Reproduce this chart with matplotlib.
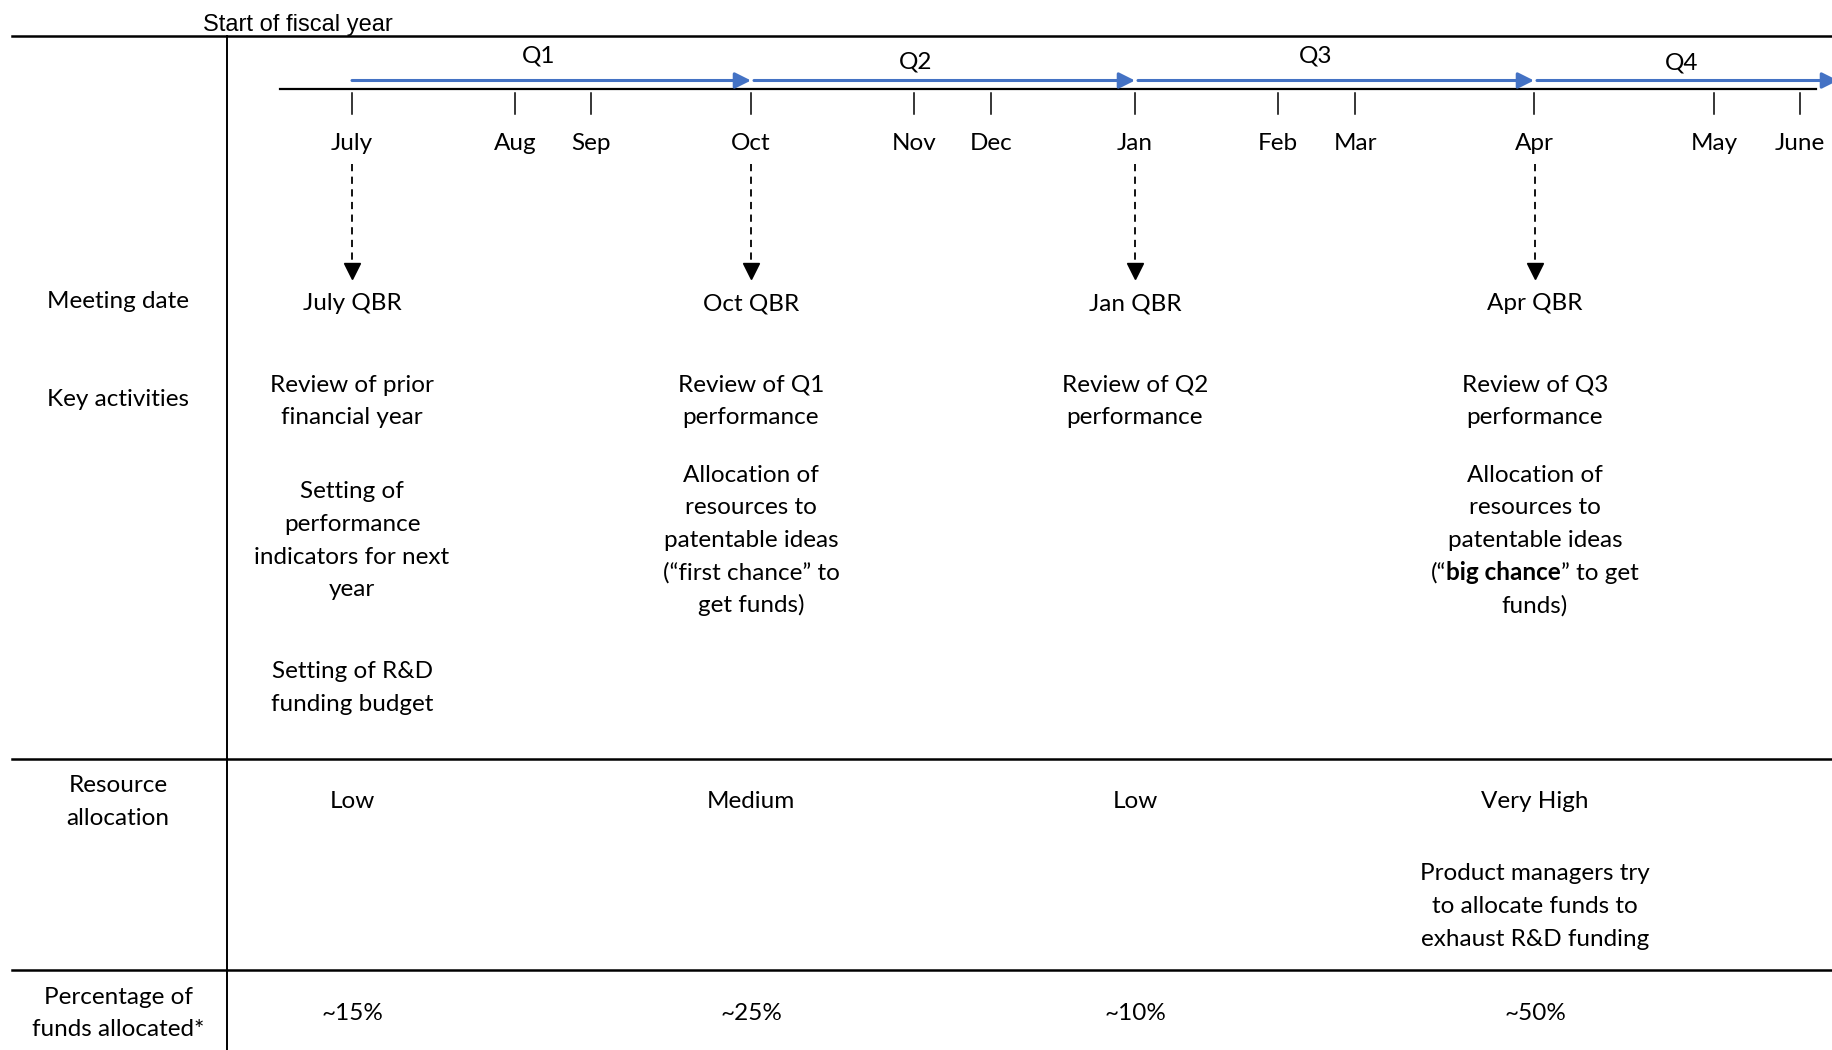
import matplotlib.pyplot as plt

plt.rcParams['font.family'] = ['Lato', 'DejaVu Sans']

# data
months = ["July", "Aug", "Sep", "Oct", "Nov", "Dec", "Jan", "Feb", "Mar", "Apr", "May", "June"]
quarters = ["Q1", "Q2", "Q3", "Q4"]
meetings = ["July QBR", "Oct QBR", "Jan QBR", "Apr QBR"]
row_labels = ["Meeting date", "Key activities", "Resource\nallocation", "Percentage of\nfunds allocated*"]
activities = [
    ["Review of prior\nfinancial year", "Setting of\nperformance\nindicators for next\nyear", "Setting of R&D\nfunding budget"],
    ["Review of Q1\nperformance", "Allocation of\nresources to\npatentable ideas\n(\u201cfirst chance\u201d to\nget funds)"],
    ["Review of Q2\nperformance"],
    ["Review of Q3\nperformance", "Allocation of\nresources to\npatentable ideas\n(\u201c**big chance**\u201d to get\nfunds)"],
]
allocation = ["Low", "Medium", "Low", "Very High"]
allocation_note = ["", "", "", "Product managers try\nto allocate funds to\nexhaust R&D funding"]
funds_pct = ["~15%", "~25%", "~10%", "~50%"]

# layout (pixel positions)
month_x = [352, 515, 591, 751, 914, 991, 1135, 1278, 1355, 1534, 1714, 1800]
quarter_idx = [0, 3, 6, 9]
quarter_label_x = [539, 916, 1316, 1682]
quarter_label_y = [56, 62, 56, 63]
col_x = [352, 751, 1135, 1535]
label_x = 118
blue = '#4472C4'
fs = 17.5
line_h = 32.6

fig = plt.figure(figsize=(18.32, 10.5), dpi=100, facecolor='white')
ax = fig.add_axes([0, 0, 1, 1])
ax.set_xlim(0, 1832)
ax.set_ylim(1050, 0)
ax.axis('off')

# table lines
ax.plot([12, 1832], [36, 36], color='black', lw=1.8)
ax.plot([12, 1832], [759, 759], color='black', lw=1.8)
ax.plot([12, 1832], [970, 970], color='black', lw=1.8)
ax.plot([227, 227], [36, 1050], color='black', lw=1.4)

ax.text(203, 25, "Start of fiscal year", family='Liberation Sans', fontsize=17,
        ha='left', va='center')

# timeline
ax.plot([280, 1816], [89, 89], color='black', lw=1.6)
for m, x in zip(months, month_x):
    ax.plot([x, x], [93, 114], color='black', lw=1.1)
    ax.text(x, 144, m, fontsize=fs, ha='center', va='center')

# quarter arrows
ends = [month_x[i] for i in quarter_idx] + [1838]
for i, q in enumerate(quarters):
    x0 = ends[i] + (0 if i == 0 else 3)
    x1 = ends[i + 1]
    ax.annotate('', xy=(x1, 80.5), xytext=(x0, 80.5), annotation_clip=False,
                arrowprops=dict(arrowstyle='-|>', color=blue, lw=2.2,
                                mutation_scale=24, shrinkA=0, shrinkB=0))
    ax.text(quarter_label_x[i], quarter_label_y[i], q, fontsize=fs, ha='center', va='center')

# dashed arrows to meetings
for x in col_x:
    ax.plot([x, x], [164, 268], color='black', lw=1.3, linestyle=(0, (4, 3)))
    ax.plot(x, 271, marker='v', color='black', markersize=11)


def multiline(x, top, text, **kw):
    for k, line in enumerate(text.split('\n')):
        ax.text(x, top + k * line_h, line, fontsize=fs, ha='center', va='center', **kw)


# row labels
label_top = [301, 400, 786, 997]
for lab, y in zip(row_labels, label_top):
    multiline(label_x, y, lab)

for x, meet in zip(col_x, meetings):
    ax.text(x, 304, meet, fontsize=fs, ha='center', va='center')

# key activities
block_top = [385, 492, 672]
fig.canvas.draw()
renderer = fig.canvas.get_renderer()
for x, blocks in zip(col_x, activities):
    for b, block in enumerate(blocks):
        top = 385 if b == 0 else (475 if len(blocks) == 2 else block_top[b])
        for k, line in enumerate(block.split('\n')):
            y = top + k * line_h
            if '**' in line:
                parts = line.split('**')
                weights = ['normal', 'bold', 'normal']
                texts = [ax.text(0, y, p, fontsize=fs, fontweight=w, ha='left', va='center')
                         for p, w in zip(parts, weights)]
                widths = [t.get_window_extent(renderer).width for t in texts]
                cur = x - sum(widths) / 2
                for t, w in zip(texts, widths):
                    t.set_x(cur)
                    cur += w
            else:
                ax.text(x, y, line, fontsize=fs, ha='center', va='center')

# resource allocation
for x, a, note in zip(col_x, allocation, allocation_note):
    ax.text(x, 802, a, fontsize=fs, ha='center', va='center')
    if note:
        multiline(x, 874, note)

# percentage
for x, p in zip(col_x, funds_pct):
    ax.text(x, 1013, p, fontsize=fs, ha='center', va='center')

fig.savefig('out.png', dpi=100, facecolor='white')
